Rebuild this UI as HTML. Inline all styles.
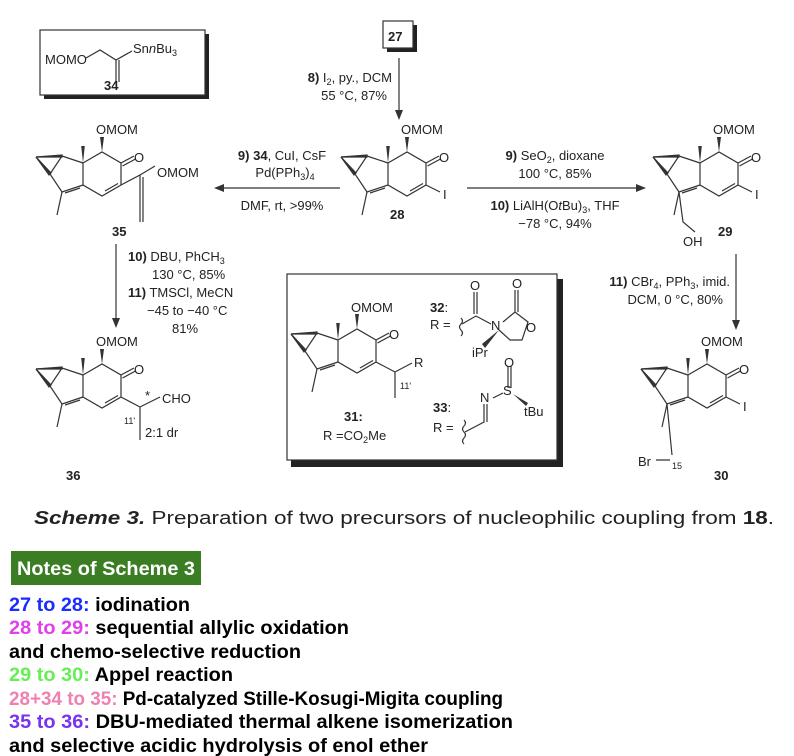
<!DOCTYPE html>
<html><head><meta charset="utf-8"><style>
html,body{margin:0;padding:0;background:#fff;}
svg{display:block;font-family:"Liberation Sans",Arial,sans-serif;}
.t{font-size:13px;fill:#222;}
.b{font-weight:bold;}
.n{font-family:"Liberation Sans",Arial,sans-serif;font-weight:bold;font-size:19px;}
</style></head><body>
<svg width="794" height="756" viewBox="0 0 794 756" xmlns="http://www.w3.org/2000/svg">
<defs>
<g id="core" stroke="#333" stroke-width="1.2" fill="none">
<path d="M0,0 L19,-11 L38,0 L38,22 L19,33 L0,22 Z"/>
<path d="M22,28 L35,20.5"/>
<path d="M0,22 L-21,29 L-33,11 L-21,-7 L0,0"/>
<path d="M-3,25 L-18,30"/>
<path d="M-21,29 L-26,52"/>
<path d="M38,0 L51,-7 M39.5,3 L52.5,-4"/>
<polygon points="-47,-6 -21,-8 -21,-6" fill="#333"/>
<polygon points="-47,-6 -34,12 -32,10" fill="#333"/>
<path d="M-47,-6 L-21,-7 M-47,-6 L-33,11"/>
<polygon points="0,0 -1.8,-17 1.8,-17" fill="#333" stroke="none"/>
<polygon points="19,-11 17,-26 21,-26" fill="#333" stroke="none"/>
</g>
</defs>

<rect x="44" y="34" width="165" height="65" fill="#222"/>
<rect x="40" y="30" width="165" height="65" fill="#fff" stroke="#333" stroke-width="1.2"/>
<text class="t" x="45" y="64">MOMO</text>
<path d="M86,58 L100,50 L116,60 L132,51" stroke="#333" stroke-width="1.2" fill="none"/>
<path d="M116,60 L116,82 M119,60 L119,82" stroke="#333" stroke-width="1.2"/>
<text class="t" x="133" y="53">Sn<tspan font-style="italic">n</tspan>Bu<tspan font-size="9" dy="3">3</tspan></text>
<text class="t b" x="104" y="90">34</text>

<rect x="387" y="25" width="30" height="27" fill="#222"/>
<rect x="383" y="21" width="30" height="27" fill="#fff" stroke="#333" stroke-width="1.2"/>
<text class="t b" x="388" y="41">27</text>
<path d="M399,58 L399,112" stroke="#333" stroke-width="1.2"/>
<polygon points="399,120 395,110 403,110" fill="#333"/>
<text class="t" x="392" y="82" text-anchor="end"><tspan class="b">8)</tspan> I<tspan font-size="9" dy="3">2</tspan><tspan dy="-3">, py., DCM</tspan></text>
<text class="t" x="387" y="100" text-anchor="end">55 °C, 87%</text>

<use href="#core" x="388" y="163"/>
<path d="M426,185 L440,192" stroke="#333" stroke-width="1.2"/>
<text class="t" x="401" y="134">OMOM</text>
<text class="t" x="439" y="162">O</text>
<text class="t" x="443" y="199">I</text>
<text class="t b" x="390" y="219">28</text>

<path d="M340,188 L222,188" stroke="#333" stroke-width="1.2"/>
<polygon points="214,188 224,184 224,192" fill="#333"/>
<text class="t" x="282" y="160" text-anchor="middle"><tspan class="b">9) 34</tspan>, CuI, CsF</text>
<text class="t" x="285" y="177" text-anchor="middle">Pd(PPh<tspan font-size="9" dy="3">3</tspan><tspan dy="-3">)</tspan><tspan font-size="9" dy="3">4</tspan></text>
<text class="t" x="282" y="210" text-anchor="middle">DMF, rt, &gt;99%</text>

<path d="M467,188 L638,188" stroke="#333" stroke-width="1.2"/>
<polygon points="646,188 636,184 636,192" fill="#333"/>
<text class="t" x="555" y="160" text-anchor="middle"><tspan class="b">9)</tspan> SeO<tspan font-size="9" dy="3">2</tspan><tspan dy="-3">, dioxane</tspan></text>
<text class="t" x="555" y="178" text-anchor="middle">100 °C, 85%</text>
<text class="t" x="555" y="210" text-anchor="middle"><tspan class="b">10)</tspan> LiAlH(O<tspan font-style="italic">t</tspan>Bu)<tspan font-size="9" dy="3">3</tspan><tspan dy="-3">, THF</tspan></text>
<text class="t" x="555" y="228" text-anchor="middle">−78 °C, 94%</text>

<use href="#core" x="700" y="163"/>
<path d="M738,185 L752,192" stroke="#333" stroke-width="1.2"/>
<path d="M679,192 L683,222 L695,232" stroke="#333" stroke-width="1.2" fill="none"/>
<text class="t" x="713" y="134">OMOM</text>
<text class="t" x="751" y="162">O</text>
<text class="t" x="755" y="199">I</text>
<text class="t" x="683" y="246">OH</text>
<text class="t b" x="718" y="236">29</text>

<use href="#core" x="83" y="163"/>
<path d="M121,185 L140,175 L140,222 M143,177 L143,222 M140,175 L155,166" stroke="#333" stroke-width="1.2" fill="none"/>
<text class="t" x="96" y="134">OMOM</text>
<text class="t" x="134" y="162">O</text>
<text class="t" x="157" y="177">OMOM</text>
<text class="t b" x="112" y="236">35</text>

<path d="M116,244 L116,320" stroke="#333" stroke-width="1.2"/>
<polygon points="116,328 112,318 120,318" fill="#333"/>
<text class="t" x="128" y="261"><tspan class="b">10)</tspan> DBU, PhCH<tspan font-size="9" dy="3">3</tspan></text>
<text class="t" x="152" y="279">130 °C, 85%</text>
<text class="t" x="128" y="297"><tspan class="b">11)</tspan> TMSCl, MeCN</text>
<text class="t" x="147" y="315">−45 to −40 °C</text>
<text class="t" x="172" y="333">81%</text>

<use href="#core" x="83" y="375"/>
<path d="M121,397 L140,407 L160,397 M140,407 L140,440" stroke="#333" stroke-width="1.2" fill="none"/>
<text class="t" x="96" y="346">OMOM</text>
<text class="t" x="134" y="374">O</text>
<text class="t" x="145" y="400" font-size="11">*</text>
<text class="t" x="162" y="403">CHO</text>
<text x="124" y="424" font-size="9" fill="#222">11'</text>
<text class="t" x="145" y="437">2:1 dr</text>
<text class="t b" x="66" y="480">36</text>

<rect x="291" y="279" width="272" height="188" fill="#222"/>
<rect x="287" y="274" width="270" height="186" fill="#fff" stroke="#333" stroke-width="1.2"/>
<use href="#core" x="338" y="340"/>
<path d="M376,362 L395,372 L412,363 M395,372 L395,398" stroke="#333" stroke-width="1.2" fill="none"/>
<text class="t" x="351" y="312">OMOM</text>
<text class="t" x="389" y="339">O</text>
<text class="t" x="414" y="367">R</text>
<text x="400" y="389" font-size="9" fill="#222">11'</text>
<text class="t b" x="344" y="421">31:</text>
<text class="t" x="323" y="440">R =CO<tspan font-size="9" dy="3">2</tspan><tspan dy="-3">Me</tspan></text>
<text class="t b" x="430" y="312">32<tspan font-weight="normal">:</tspan></text>
<text class="t" x="430" y="329">R =</text>
<path d="M461,318 q3,3 0,6 q-3,3 0,6 q3,3 0,6 M462,324 L476,316 L491,324 M474,314 L474,292 M477,314 L477,292 M503,322 L515,312 L528,322 L522,340 L510,340 L499,330 M515,312 L515,290 M518,312 L518,290" stroke="#333" stroke-width="1.2" fill="none"/>
<polygon points="499,330 482,344 485,348" fill="#333"/>
<text class="t" x="470" y="290">O</text>
<text class="t" x="512" y="288">O</text>
<text class="t" x="491" y="330">N</text>
<text class="t" x="526" y="332">O</text>
<text class="t" x="472" y="357">iPr</text>
<text class="t b" x="433" y="412">33<tspan font-weight="normal">:</tspan></text>
<text class="t" x="433" y="432">R =</text>
<path d="M464,420 q3,3 0,6 q-3,3 0,6 q3,3 0,6 q-3,3 0,6 M465,432 L484,422 L484,404 M487,422 L487,404 M493,398 L503,393 M508,388 L508,366 M511,388 L511,366" stroke="#333" stroke-width="1.2" fill="none"/>
<polygon points="513,394 528,403 526,406" fill="#333"/>
<text class="t" x="480" y="402">N</text>
<text class="t" x="503" y="395">S</text>
<text class="t" x="504" y="367">O</text>
<text class="t" x="524" y="416">tBu</text>

<path d="M736,254 L736,322" stroke="#333" stroke-width="1.2"/>
<polygon points="736,330 732,320 740,320" fill="#333"/>
<text class="t" x="730" y="286" text-anchor="end"><tspan class="b">11)</tspan> CBr<tspan font-size="9" dy="3">4</tspan><tspan dy="-3">, PPh</tspan><tspan font-size="9" dy="3">3</tspan><tspan dy="-3">, imid.</tspan></text>
<text class="t" x="723" y="304" text-anchor="end">DCM, 0 °C, 80%</text>

<use href="#core" x="688" y="375"/>
<path d="M726,397 L740,404" stroke="#333" stroke-width="1.2"/>
<path d="M667,404 L672,455 M656,460 L670,460" stroke="#333" stroke-width="1.2" fill="none"/>
<text class="t" x="701" y="346">OMOM</text>
<text class="t" x="739" y="374">O</text>
<text class="t" x="743" y="411">I</text>
<text class="t" x="638" y="466">Br</text>
<text x="672" y="469" font-size="9" fill="#222">15</text>
<text class="t b" x="714" y="480">30</text>

<text x="34" y="524" font-size="18" fill="#222" textLength="740" lengthAdjust="spacingAndGlyphs"><tspan font-weight="bold" font-style="italic">Scheme 3.</tspan> Preparation of two precursors of nucleophilic coupling from <tspan font-weight="bold">18</tspan>.</text>

<rect x="11" y="551" width="190" height="34" fill="#3a7d22"/>
<text class="n" x="17" y="575" fill="#fff" textLength="178" lengthAdjust="spacingAndGlyphs">Notes of Scheme 3</text>
<text class="n" x="9" y="611" textLength="181" lengthAdjust="spacingAndGlyphs"><tspan fill="#1a2cff">27 to 28:</tspan> iodination</text>
<text class="n" x="9" y="634" textLength="340" lengthAdjust="spacingAndGlyphs"><tspan fill="#e040e8">28 to 29:</tspan> sequential allylic oxidation</text>
<text class="n" x="9" y="658" textLength="292" lengthAdjust="spacingAndGlyphs">and chemo-selective reduction</text>
<text class="n" x="9" y="681" textLength="224" lengthAdjust="spacingAndGlyphs"><tspan fill="#66ee55">29 to 30:</tspan> Appel reaction</text>
<text class="n" x="9" y="705" textLength="494" lengthAdjust="spacingAndGlyphs"><tspan fill="#f080b0">28+34 to 35:</tspan> Pd-catalyzed Stille-Kosugi-Migita coupling</text>
<text class="n" x="9" y="728" textLength="504" lengthAdjust="spacingAndGlyphs"><tspan fill="#7733ee">35 to 36:</tspan> DBU-mediated thermal alkene isomerization</text>
<text class="n" x="9" y="752" textLength="419" lengthAdjust="spacingAndGlyphs">and selective acidic hydrolysis of enol ether</text>
</svg>
</body></html>
